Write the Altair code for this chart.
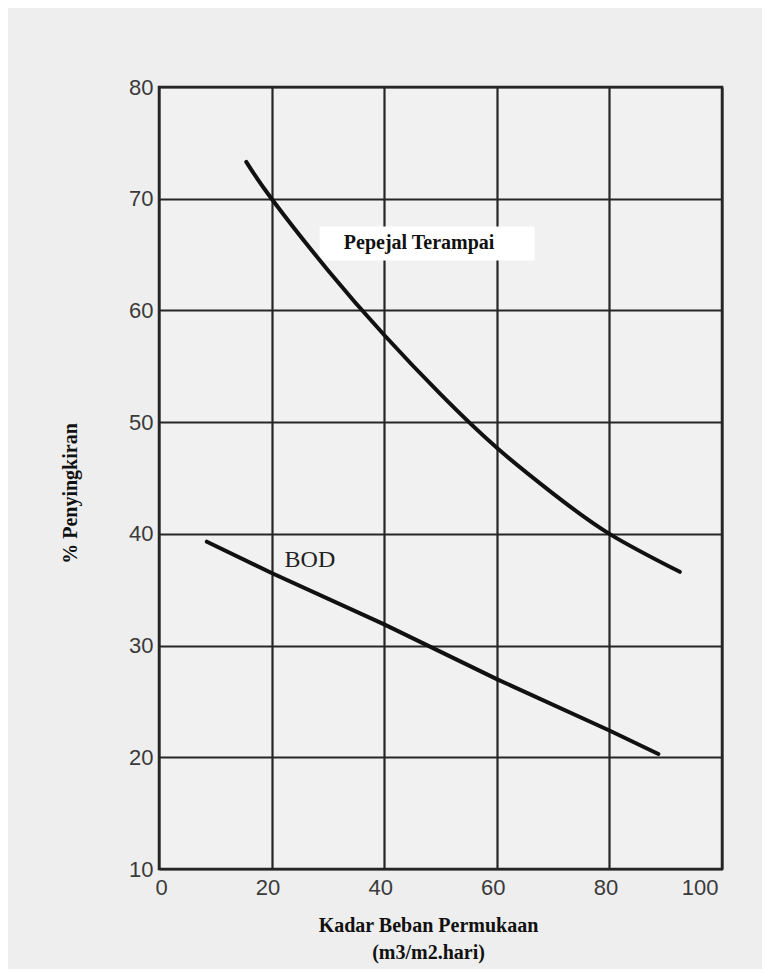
import altair as alt
import pandas as pd

# Pepejal Terampai (suspended solids) removal curve
ss_x = [15.5, 20, 30, 40, 50, 60, 70, 80, 92.5]
ss_y = [73.3, 70.0, 63.6, 57.8, 52.5, 47.7, 43.6, 40.0, 36.6]

# BOD removal curve
bod_x = [8.5, 20, 40, 60, 80, 88.7]
bod_y = [39.3, 36.5, 31.9, 27.0, 22.4, 20.3]

x_ticks = [0, 20, 40, 60, 80, 100]
y_ticks = [10, 20, 30, 40, 50, 60, 70, 80]

label_text = ["Pepejal Terampai", "BOD"]
label_x = [46.2, 26.8]
label_y = [66.0, 37.7]

ss = pd.DataFrame({"x": ss_x, "y": ss_y})
bod = pd.DataFrame({"x": bod_x, "y": bod_y})
labels = pd.DataFrame({"t": label_text, "x": label_x, "y": label_y})

xs = alt.Scale(domain=[0, 100], nice=False)
ys = alt.Scale(domain=[10, 80], nice=False)

x_axis = alt.Axis(values=x_ticks, title=["Kadar Beban Permukaan", "(m3/m2.hari)"],
                  grid=True, gridColor="#262626", gridWidth=2.2, gridOpacity=1,
                  domain=False, ticks=False, labelPadding=8, labelFontSize=22,
                  labelOffset=-4,
                  labelFont="Liberation Sans", labelColor="#3a3a3a",
                  titleFont="Liberation Serif", titleFontWeight="bold",
                  titleFontSize=20, titleColor="#111", titlePadding=17,
                  titleLineHeight=27, titleX=269)
y_axis = alt.Axis(values=y_ticks, title="% Penyingkiran",
                  grid=True, gridColor="#262626", gridWidth=2.2, gridOpacity=1,
                  domain=False, ticks=False, labelPadding=6, labelFontSize=22,
                  labelFont="Liberation Sans", labelColor="#3a3a3a",
                  titleFont="Liberation Serif", titleFontWeight="bold",
                  titleFontSize=20, titleColor="#111", titlePadding=48,
                  titleY=406)

ss_line = alt.Chart(ss).mark_line(color="#111", strokeWidth=4, strokeCap="round",
                                  interpolate="natural").encode(
    x=alt.X("x:Q", scale=xs, axis=x_axis),
    y=alt.Y("y:Q", scale=ys, axis=y_axis),
)
bod_line = alt.Chart(bod).mark_line(color="#111", strokeWidth=4, strokeCap="round",
                                    interpolate="linear").encode(
    x=alt.X("x:Q", scale=xs), y=alt.Y("y:Q", scale=ys))

box = alt.Chart(labels.iloc[[0]]).mark_rect(color="white", width=215, height=34,
                                            xOffset=8).encode(
    x=alt.X("x:Q", scale=xs), y=alt.Y("y:Q", scale=ys))

text_bold = alt.Chart(labels.iloc[[0]]).mark_text(
    font="Liberation Serif", fontSize=20, fontWeight="bold", color="#111").encode(
    x=alt.X("x:Q", scale=xs), y=alt.Y("y:Q", scale=ys), text="t:N")
text_norm = alt.Chart(labels.iloc[[1]]).mark_text(
    font="Liberation Serif", fontSize=24, color="#222").encode(
    x=alt.X("x:Q", scale=xs), y=alt.Y("y:Q", scale=ys), text="t:N")

chart = alt.layer(box, ss_line, bod_line, text_bold, text_norm).properties(
    width=563, height=782,
    autosize=alt.AutoSizeParams(type="none"),
    padding={"left": 151, "top": 79, "right": 40, "bottom": 100},
    background="#eeeeee",
).configure_view(stroke="#222", strokeWidth=2.5, fill="#f1f1f1")

chart.save("out.html", embed_options={"renderer": "svg", "actions": False})
